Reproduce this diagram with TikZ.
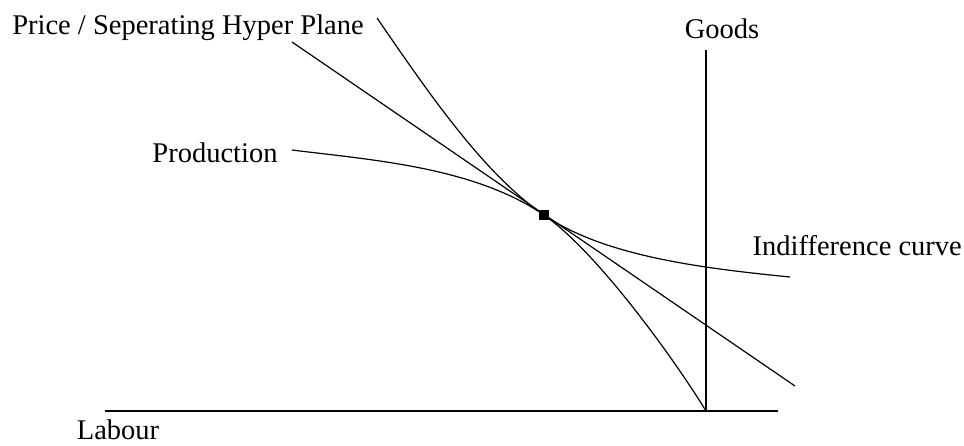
\documentclass[tikz,border=0pt]{standalone}
\usepackage{fontspec}
\setmainfont{Liberation Serif}
\begin{document}
\begin{tikzpicture}[x=1pt,y=-1pt,
  lbl/.style={font=\fontsize{28.5}{32}\selectfont, inner sep=0pt},
  curve/.style={line width=1.2pt, black},
  axis/.style={line width=2pt, black}]
\useasboundingbox (0,0) rectangle (964,445);
% labels
\node[lbl] (price) at (188,28) {Price / Seperating Hyper Plane};
\node[lbl] (prod) at (215,153) {Production};
\node[lbl] (goods) at (722,29) {Goods};
\node[lbl, anchor=east] (indiff) at (962,246) {Indifference curve};
\node[lbl] (labour) at (118,430) {Labour};
% key points
\coordinate (O) at (706,411);
\coordinate (Gtop) at (706,50);
\coordinate (Lend) at (105,411);
\coordinate (Rend) at (778,411);
\coordinate (T) at (544,215);
\coordinate (p1) at (292,42);
\coordinate (p2) at (795,386);
\coordinate (i1) at (377,18);
\coordinate (i2) at (790,277);
\coordinate (q1) at (292,150);
% axes
\draw[axis] (Lend) -- (Rend);
\draw[axis] (Gtop) -- (O);
% price line
\draw[curve] (p1) -- (p2);
% indifference curve
\draw[curve] (i1) .. controls (430,95) and (484,174) .. (T)
  .. controls (604,256) and (700,268) .. (i2);
% production frontier
\draw[curve] (q1) .. controls (372,160) and (474,167) .. (T)
  .. controls (600,254) and (680,368) .. (O);
% tangency point
\node[fill=black, minimum size=10pt, inner sep=0pt] (tp) at (T) {};
\end{tikzpicture}
\end{document}
